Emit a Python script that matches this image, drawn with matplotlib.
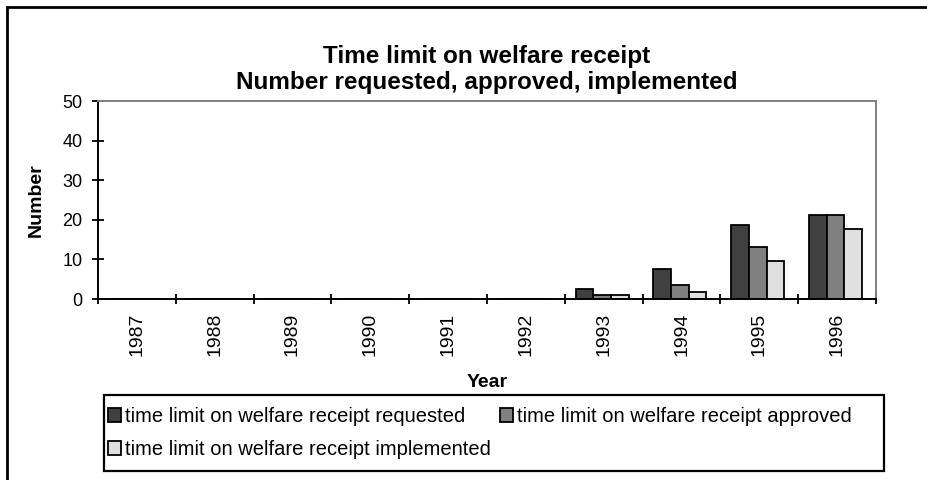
import matplotlib
matplotlib.use("Agg")
import matplotlib.pyplot as plt
import numpy as np
from matplotlib.patches import Rectangle

plt.rcParams['font.family'] = ['Liberation Sans', 'DejaVu Sans']

# donnees
years = ['1987', '1988', '1989', '1990', '1991', '1992', '1993', '1994', '1995', '1996']
requested = [0, 0, 0, 0, 0, 0, 2.6, 7.7, 18.8, 21.3]
approved = [0, 0, 0, 0, 0, 0, 1.1, 3.6, 13.2, 21.3]
implemented = [0, 0, 0, 0, 0, 0, 1.1, 1.7, 9.7, 17.8]
series_names = ['time limit on welfare receipt requested',
                'time limit on welfare receipt approved',
                'time limit on welfare receipt implemented']
colors = ['#404040', '#808080', '#e0e0e0']

W, H = 927, 480
fig = plt.figure(figsize=(W / 100, H / 100), dpi=100)
ax = fig.add_axes([98/W, 1 - 299/H, (876 - 98)/W, (299 - 101)/H])

x = np.arange(len(years))
w = 0.227
bars = []
for i, (vals, name, c) in enumerate(zip([requested, approved, implemented], series_names, colors)):
    b = ax.bar(x + (i - 1) * w - 0.02, vals, w, color=c, edgecolor='black',
               linewidth=1.3, label=name)
    bars.append(b)

ax.set_xlim(-0.5, len(years) - 0.5)
ax.set_ylim(0, 50)
ax.set_yticks(range(0, 51, 10))
ax.set_xticks(x)
ax.set_xticklabels(years, rotation=90)
ax.set_xticks(np.arange(-0.5, len(years)), minor=True)
ax.tick_params(axis='x', which='major', length=0, pad=10, labelsize=14)
ax.tick_params(axis='x', which='minor', length=7.5, width=1.3, direction='inout')
ax.tick_params(axis='y', length=8, width=1.3, direction='inout', pad=7, labelsize=13)

for s in ['left', 'bottom']:
    ax.spines[s].set_linewidth(1.4)
    ax.spines[s].set_color('black')
for s in ['top', 'right']:
    ax.spines[s].set_linewidth(1.4)
    ax.spines[s].set_color('#808080')

ax.set_xlabel('Year', fontweight='bold', fontsize=14, labelpad=13)
ax.set_ylabel('Number', fontweight='bold', fontsize=14, labelpad=13)
ax.set_title('Time limit on welfare receipt\nNumber requested, approved, implemented',
             fontweight='bold', fontsize=17.5, pad=8.5)

# ordre des entrees pour remplir ligne par ligne
handles = [bars[0], bars[2], bars[1]]
labels = [series_names[0], series_names[2], series_names[1]]
leg = fig.legend(handles, labels, ncol=2, loc='upper left',
                 bbox_to_anchor=(108/W, 1 - 407/H),
                 fontsize=14.5, frameon=False,
                 handlelength=0.65, handleheight=0.65, handletextpad=0.2,
                 borderaxespad=0, borderpad=0, labelspacing=0.7, columnspacing=0.45)

# cadre de la legende
fig.patches.append(Rectangle((104/W, 1 - 471/H), 780/W, 76/H, transform=fig.transFigure,
                             fill=False, edgecolor='black', linewidth=1.6))
# cadre exterieur
fig.patches.append(Rectangle((7/W, -0.1), 1.0, 1 - 7/H + 0.1, transform=fig.transFigure,
                             fill=False, edgecolor='black', linewidth=2))

plt.savefig('out.png', dpi=100)
